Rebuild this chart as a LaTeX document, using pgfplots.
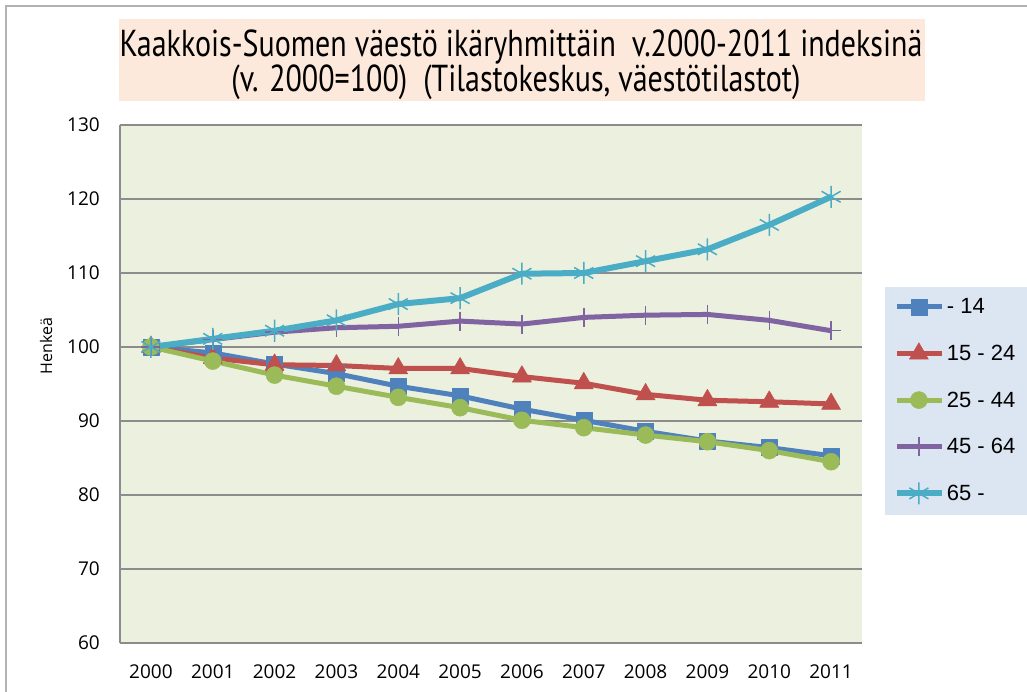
\documentclass[border=0pt]{standalone}
\usepackage{pgfplots}
\pgfplotsset{compat=1.18}
\usepackage{fontspec}
\setmainfont{Open Sans}
\newfontfamily\titlefont[FakeStretch=0.8]{PT Sans}
\newfontfamily\arialf{Liberation Sans}
\definecolor{cblue}{HTML}{4F81BD}
\definecolor{cred}{HTML}{C0504D}
\definecolor{cgreen}{HTML}{9BBB59}
\definecolor{cpurple}{HTML}{8064A2}
\definecolor{ccyan}{HTML}{4BACC6}
\definecolor{plotbg}{HTML}{EBF0DF}
\definecolor{legbg}{HTML}{DCE6F2}
\definecolor{titlebg}{HTML}{FDE9DC}
\definecolor{gridc}{HTML}{8C8C8C}
\begin{document}
\begin{tikzpicture}[x=1pt,y=1pt]
\useasboundingbox (0,0) rectangle (1027,692);
\draw[gray!60, line width=1.5pt] (6,0) -- (6,686) -- (1027,686);
\fill[titlebg] (119,591) rectangle (925,673);
\node[font=\titlefont\fontsize{37.5}{44}\selectfont, anchor=base, inner sep=0pt] at (521,635) {Kaakkois-Suomen väestö ikäryhmittäin \ v.2000-2011 indeksinä};
\node[font=\titlefont\fontsize{37.5}{44}\selectfont, anchor=base, inner sep=0pt] at (516,600) {(v. 2000=100) \ (Tilastokeskus, väestötilastot)};
\fill[legbg] (885,177) rectangle (1027,405);
\node[rotate=90, inner sep=0pt, font=\fontsize{16}{19}\selectfont] at (46,346) {Henkeä};
\begin{axis}[
  at={(120pt,49pt)}, anchor=south west,
  scale only axis, width=742pt, height=518pt,
  xmin=-0.5, xmax=11.5, ymin=60, ymax=130,
  xtick={0,...,11},
  xticklabels={2000,2001,2002,2003,2004,2005,2006,2007,2008,2009,2010,2011},
  ytick={60,70,...,130},
  /pgf/number format/assume math mode=true,
  major tick length=0pt,
  tick label style={font=\fontsize{19}{22}\selectfont},
  yticklabel style={anchor=east, inner sep=0pt, xshift=-20pt},
  xticklabel style={anchor=north, inner sep=0pt, yshift=-22pt},
  axis x line*=bottom, axis y line*=left,
  axis line style={draw=gridc, line width=2pt, -},
  ymajorgrids, major grid style={draw=gridc, line width=2pt},
  axis background/.style={fill=plotbg},
  clip=false,
  legend cell align=left,
  legend image code/.code={\draw[mark repeat=2,mark phase=2] plot coordinates {(0pt,0pt) (22pt,0pt) (45pt,0pt)};},
  legend style={at={(1.04,0.673)}, anchor=north west, draw=none, fill=none,
    font=\arialf\fontsize{22}{26}\selectfont, row sep=25.5pt, inner sep=2pt,
    nodes={inner sep=2pt}},
]
\addplot[color=cblue, line width=5pt, line join=round, mark=square*, mark size=8pt, mark options={solid, line width=0.5pt, fill=cblue}]
coordinates {(0,100) (1,99.2) (2,97.7) (3,96.4) (4,94.7) (5,93.4) (6,91.6) (7,90.1) (8,88.6) (9,87.3) (10,86.4) (11,85.3)};
\addlegendentry{- 14}
\addplot[color=cred, line width=5pt, line join=round, mark=triangle*, mark size=11pt, mark options={solid, line width=0.5pt, fill=cred}]
coordinates {(0,100) (1,98.5) (2,97.6) (3,97.5) (4,97.1) (5,97.1) (6,96.0) (7,95.1) (8,93.6) (9,92.8) (10,92.6) (11,92.3)};
\addlegendentry{15 - 24}
\addplot[color=cgreen, line width=5pt, line join=round, mark=*, mark size=8.5pt, mark options={solid, line width=0.5pt, fill=cgreen}]
coordinates {(0,100) (1,98.1) (2,96.2) (3,94.7) (4,93.2) (5,91.8) (6,90.1) (7,89.1) (8,88.1) (9,87.2) (10,86.0) (11,84.5)};
\addlegendentry{25 - 44}
\addplot[color=cpurple, line width=5pt, line join=round, mark=+, mark size=9.5pt, mark options={solid, line width=1.5pt}]
coordinates {(0,100) (1,101.0) (2,102.0) (3,102.6) (4,102.8) (5,103.5) (6,103.1) (7,104.0) (8,104.3) (9,104.4) (10,103.6) (11,102.2)};
\addlegendentry{45 - 64}
\addplot[color=ccyan, line width=6pt, line join=round, mark=asterisk, mark size=11pt, mark options={solid, line width=1.5pt}]
coordinates {(0,100) (1,101.1) (2,102.2) (3,103.6) (4,105.8) (5,106.6) (6,109.9) (7,110.0) (8,111.6) (9,113.2) (10,116.5) (11,120.3)};
\addlegendentry{65 -}
\end{axis}
\end{tikzpicture}
\end{document}
